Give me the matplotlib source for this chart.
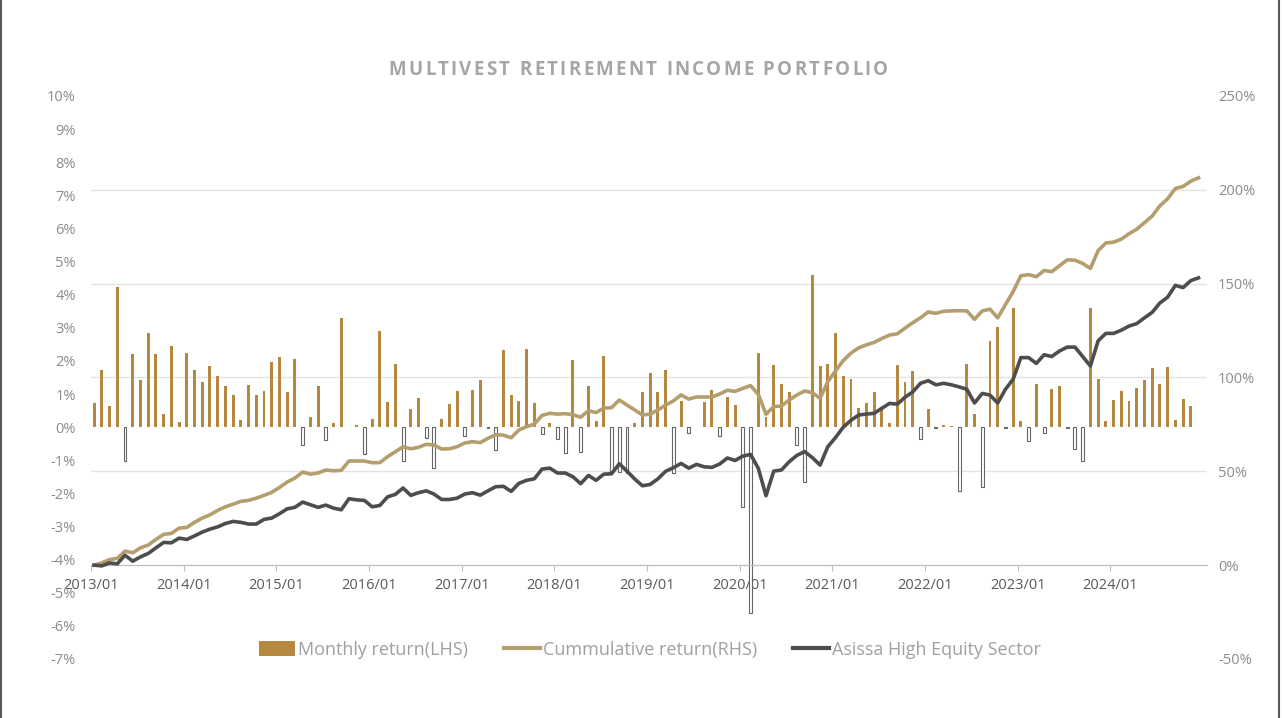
import numpy as np
import matplotlib
matplotlib.use("Agg")
import matplotlib.pyplot as plt
from matplotlib.patches import Patch
from matplotlib.lines import Line2D
from matplotlib.font_manager import FontProperties


# Monthly fund return in % (2013/01 .. 2024/11), left axis
monthly_return = [
    0.73, 1.73, 0.63, 4.24, -1.02, 2.21, 1.43, 2.85, 2.21, 0.41, 2.46, 0.16,
    2.23, 1.74, 1.35, 1.84, 1.56, 1.24, 0.98, 0.22, 1.27, 0.97, 1.10, 1.97,
    2.12, 1.07, 2.05, -0.55, 0.30, 1.25, -0.39, 0.12, 3.30, 0.01, 0.06, -0.81,
    0.25, 2.91, 0.76, 1.90, -1.01, 0.56, 0.88, -0.34, -1.22, 0.26, 0.71, 1.10,
    -0.27, 1.13, 1.41, -0.02, -0.70, 2.33, 0.98, 0.80, 2.35, 0.73, -0.21, 0.14,
    -0.36, -0.77, 2.02, -0.74, 1.24, 0.18, 2.16, -1.35, -1.35, -1.37, 0.14, 1.07,
    1.64, 1.07, 1.72, -1.39, 0.79, -0.19, 0.01, 0.76, 1.12, -0.28, 0.90, 0.66,
    -2.41, -5.61, 2.24, 0.31, 1.88, 1.31, 1.06, -0.53, -1.65, 4.59, 1.86, 1.91,
    2.83, 1.54, 1.46, 0.57, 0.72, 1.06, 0.59, 0.14, 1.88, 1.37, 1.70, -0.35,
    0.54, -0.03, 0.08, 0.05, -1.92, 1.91, 0.41, -1.82, 2.59, 3.01, -0.02, 3.60,
    0.18, -0.41, 1.29, -0.18, 1.15, 1.23, -0.03, -0.65, -1.01, 3.59, 1.44, 0.18,
    0.81, 1.09, 0.80, 1.19, 1.42, 1.79, 1.29, 1.81, 0.23, 0.86, 0.65,
]

# Cumulative fund return in % (right axis), one point per month
cumulative_return = [
    0, 1.2, 3.0, 3.6, 7.5, 6.6, 9.2, 10.7, 13.7, 16.4, 16.9, 19.7,
    20.1, 22.8, 25.1, 26.8, 29.2, 31.1, 32.5, 34.0, 34.5, 35.7, 37.2, 38.8,
    41.4, 44.3, 46.4, 49.6, 48.5, 49.1, 50.7, 50.3, 50.5, 55.5, 55.5, 55.5,
    54.6, 54.6, 57.8, 60.4, 63.1, 62.0, 62.8, 64.4, 64.0, 61.9, 62.0, 63.1,
    65.1, 65.8, 65.3, 67.6, 69.5, 69.3, 67.9, 72.0, 73.8, 75.2, 79.8, 80.9,
    80.5, 80.7, 80.2, 78.8, 82.3, 81.3, 83.7, 83.9, 88.0, 85.3, 82.7, 80.0,
    80.5, 82.7, 85.3, 87.5, 90.7, 88.5, 89.6, 89.6, 89.6, 91.2, 93.2, 92.6,
    94.2, 95.7, 91.0, 80.4, 84.5, 84.8, 88.0, 90.7, 92.8, 91.9, 88.9, 97.8,
    103.5, 109.0, 113.0, 115.8, 117.4, 118.7, 120.8, 122.6, 123.3, 126.3, 129.2, 131.8,
    134.9, 134.2, 135.3, 135.5, 135.6, 135.5, 131.0, 135.5, 136.4, 131.8, 138.8,
    145.8, 154.2, 154.8, 153.7, 157.0, 156.4, 159.5, 162.7, 162.5, 160.8, 158.1, 167.6,
    171.7, 172.1, 173.7, 176.6, 179.0, 182.5, 186.0, 191.5, 195.2, 200.7, 201.8, 204.6, 206.4,
]

# Asisa High Equity sector cumulative return in % (right axis)
sector_return = [
    0, -0.4, 1.2, 0.7, 5.3, 2.1, 4.4, 6.2, 9.2, 12.1, 11.9, 14.4,
    13.7, 15.6, 17.6, 19.2, 20.4, 22.2, 23.3, 22.8, 21.9, 21.9, 24.4, 25.1,
    27.4, 30.0, 30.8, 33.6, 32.2, 30.8, 32.0, 30.4, 29.5, 35.4, 34.8, 34.5,
    31.1, 31.8, 36.4, 37.7, 41.1, 37.2, 38.6, 39.6, 37.9, 35.0, 35.0, 35.7,
    37.9, 38.6, 37.3, 39.6, 41.8, 42.0, 39.3, 43.6, 45.2, 46.0, 51.2, 51.7,
    49.1, 49.1, 47.1, 43.4, 47.8, 45.2, 48.5, 48.7, 54.0, 50.1, 45.9, 42.3,
    43.0, 46.0, 50.0, 51.9, 54.2, 51.7, 53.7, 52.4, 52.1, 53.9, 57.1, 55.8,
    58.1, 59.0, 51.6, 37.0, 50.1, 50.7, 55.1, 58.5, 60.5, 57.3, 53.3, 63.1,
    68.0, 73.5, 77.2, 80.0, 80.5, 80.9, 83.6, 86.2, 85.8, 89.5, 92.3, 96.9,
    98.3, 96.1, 96.9, 96.1, 95.0, 93.7, 86.4, 91.5, 90.6, 86.4, 93.7,
    99.1, 110.6, 110.6, 107.5, 112.1, 111.2, 114.1, 116.2, 116.2, 111.2, 106.1, 119.5,
    123.5, 123.5, 125.2, 127.4, 128.7, 131.8, 134.7, 139.7, 142.8, 149.1, 147.9, 151.6, 153.1,
]

year_labels = [f"{y}/01" for y in range(2013, 2025)]

TITLE = "MULTIVEST RETIREMENT INCOME PORTFOLIO"
BAR_COLOR = "#B5883F"
CUM_COLOR = "#B59E6E"
SECTOR_COLOR = "#4D4D4D"
TEXT_GREY = "#8C8C8C"

plt.rcParams["font.family"] = ["Open Sans", "DejaVu Sans"]

LMIN, LMAX = -7, 10
RMIN, RMAX = -50, 250


def spaced_title(fig, text, xc, yc, spacing_px, **kw):
    """Draw text with extra letter spacing, centred on (xc, yc) in figure coords."""
    renderer = fig.canvas.get_renderer()
    prop = FontProperties(family=plt.rcParams["font.family"],
                          size=kw.get("fontsize"), weight=kw.get("fontweight"))
    offsets = []
    for i in range(len(text)):
        w = renderer.get_text_width_height_descent(text[:i], prop, ismath=False)[0] if i else 0
        offsets.append(w + i * spacing_px)
    total = renderer.get_text_width_height_descent(text, prop, ismath=False)[0]
    total += (len(text) - 1) * spacing_px
    fig_w = fig.get_figwidth() * fig.dpi
    x0 = xc * fig_w - total / 2
    for ch, off in zip(text, offsets):
        if ch == " ":
            continue
        fig.text((x0 + off) / fig_w, yc, ch, ha="left", va="center",
                 fontproperties=prop, color=kw.get("color"))


def main() -> None:
    fig = plt.figure(figsize=(12.82, 7.18), dpi=100)
    ax = fig.add_axes([0.0710, 0.0822, 0.8705, 0.7841])
    ax2 = ax.twinx()

    bars = np.array(monthly_return)
    bx = np.arange(len(bars)) + 0.4
    pos = bars >= 0
    ax.bar(bx[pos], bars[pos], width=0.38, color=BAR_COLOR, zorder=2)
    ax.bar(bx[~pos], bars[~pos], width=0.38, facecolor="white",
           edgecolor="#666666", linewidth=0.8, zorder=2)

    lx = np.arange(len(cumulative_return)) + 0.4
    ax2.plot(lx, cumulative_return, color=CUM_COLOR, lw=2.6,
             solid_joinstyle="round")
    ax2.plot(np.arange(len(sector_return)) + 0.4, sector_return,
             color=SECTOR_COLOR, lw=2.6, solid_joinstyle="round")

    ax.set_xlim(0, 144.5)
    ax.set_ylim(LMIN, LMAX)
    ax2.set_ylim(RMIN, RMAX)

    # left axis
    ax.set_yticks(np.arange(LMIN, LMAX + 1, 1))
    ax.set_yticklabels([f"{v}%" for v in range(LMIN, LMAX + 1)])
    # right axis
    rticks = np.arange(RMIN, RMAX + 1, 50)
    ax2.set_yticks(rticks)
    ax2.set_yticklabels([f"{v}%" for v in rticks])

    # gridlines follow the right axis, drawn on the back axes
    conv = LMIN + (rticks - RMIN) / (RMAX - RMIN) * (LMAX - LMIN)
    ax.set_yticks(conv, minor=True)
    ax.grid(which="minor", axis="y", color="#E3E3E3", lw=1.0, zorder=0)
    ax.set_axisbelow(True)

    ycross = LMIN + (0 - RMIN) / (RMAX - RMIN) * (LMAX - LMIN)
    ax.spines["bottom"].set_position(("data", ycross))
    ax.spines["bottom"].set_color("#BFBFBF")
    for s in ("top", "left", "right"):
        ax.spines[s].set_visible(False)
    for s in ax2.spines.values():
        s.set_visible(False)

    ax.set_xticks(np.arange(len(year_labels)) * 12)
    ax.set_xticklabels(year_labels)
    ax.tick_params(axis="x", direction="out", length=4, color="#BFBFBF",
                   labelsize=10.5, labelcolor="#595959", pad=5)
    ax.tick_params(axis="y", which="both", length=0, labelsize=10.5,
                   labelcolor=TEXT_GREY, pad=11)
    ax2.tick_params(axis="y", length=0, labelsize=10.5,
                    labelcolor=TEXT_GREY, pad=8)

    spaced_title(fig, TITLE, 0.498, 0.903, 2.3, fontsize=13.5,
                 fontweight="bold", color="#A6A6A6")

    handles = [
        Patch(facecolor=BAR_COLOR, edgecolor="none"),
        Line2D([], [], color=CUM_COLOR, lw=3),
        Line2D([], [], color=SECTOR_COLOR, lw=3),
    ]
    labels = ["Monthly return(LHS)", "Cummulative return(RHS)",
              "Asissa High Equity Sector"]
    fig.legend(handles, labels, loc="center", bbox_to_anchor=(0.507, 0.095),
               ncol=3, frameon=False, fontsize=13, labelcolor="#A0A0A0",
               handlelength=2.0, handleheight=0.9, handletextpad=0.15,
               columnspacing=2.0)

    # frame edges of the original picture
    for xpos in (0.001, 0.998):
        fig.add_artist(Line2D([xpos, xpos], [0, 1], color="#595959", lw=1.5,
                              transform=fig.transFigure))

    fig.savefig("out.png", dpi=100, facecolor="white")


if __name__ == "__main__":
    main()
